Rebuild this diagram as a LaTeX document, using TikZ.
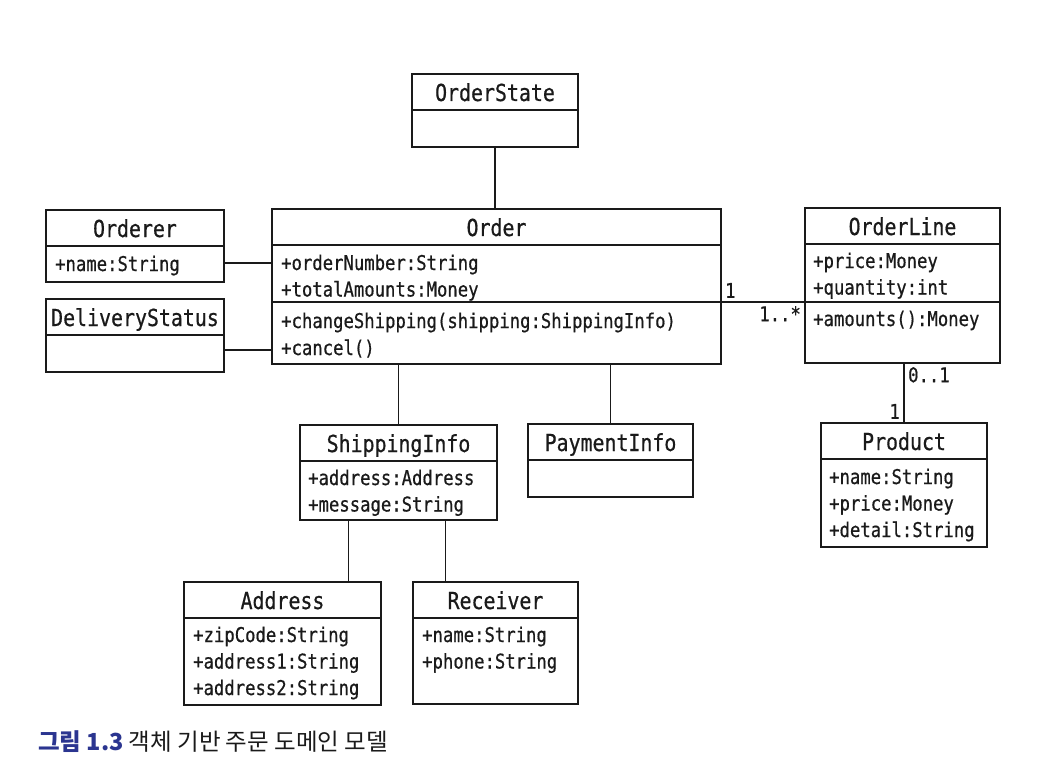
\documentclass[tikz,border=0pt]{standalone}
\usepackage{fontspec}
\usepackage{xcolor}
\usepackage{tikz}
\usetikzlibrary{positioning}
\newfontfamily\umlfont[FakeStretch=0.85,FakeBold=0.6]{DejaVu Sans Mono}
\newfontfamily\cjkfont{Noto Sans CJK KR}
\definecolor{ink}{HTML}{1A1A1A}
\definecolor{figblue}{HTML}{2B3590}
\tikzset{
  classbox/.style={draw=ink, line width=1.3pt, inner sep=0pt, outer sep=0pt},
  link/.style={draw=ink, line width=1.3pt},
  divider/.style={draw=ink, line width=1.3pt},
  ctitle/.style={text=ink, font=\umlfont\fontsize{23.4}{26}\selectfont, anchor=base, inner sep=0pt},
  member/.style={text=ink, font=\umlfont\fontsize{20.3}{24}\selectfont, anchor=base west, inner sep=0pt},
  mult/.style={text=ink, font=\umlfont\fontsize{20.3}{24}\selectfont, inner sep=3.5pt},
}

\begin{document}
\begin{tikzpicture}[x=1pt,y=-1pt]
  \fill[white] (0,0) rectangle (1045,781);
  \useasboundingbox (0,0) rectangle (1045,781);

  % class boxes
  \node[classbox, minimum width=166pt, minimum height=73pt] (orderstate) at (495,110.5) {};
  \node[classbox, minimum width=449pt, minimum height=155pt] (order) at (496.5,286.5) {};
  \node[classbox, minimum width=178pt, minimum height=72pt] (orderer) at (135,246) {};
  \node[classbox, minimum width=178pt, minimum height=73pt] (delivery) at (135,335.5) {};
  \node[classbox, minimum width=195pt, minimum height=155pt] (orderline) at (902.5,285.5) {};
  \node[classbox, minimum width=166pt, minimum height=124pt] (product) at (904,485) {};
  \node[classbox, minimum width=197pt, minimum height=95pt] (shipping) at (398.5,472.5) {};
  \node[classbox, minimum width=165pt, minimum height=73pt] (payment) at (610.5,460.5) {};
  \node[classbox, minimum width=197pt, minimum height=123pt] (address) at (282.5,643.5) {};
  \node[classbox, minimum width=165pt, minimum height=122pt] (receiver) at (495.5,643) {};

  % names and first rules
  \foreach \c/\t in {orderstate/OrderState, order/Order, orderer/Orderer,
      delivery/DeliveryStatus, orderline/OrderLine, product/Product,
      shipping/ShippingInfo, payment/PaymentInfo, address/Address, receiver/Receiver} {
    \node[ctitle] (\c-title) at ([yshift=-27pt]\c.north) {\t};
    \draw[divider] ([yshift=-36pt]\c.north west) -- ([yshift=-36pt]\c.north east);
  }
  \draw[divider] ([yshift=-93pt]order.north west) -- ([yshift=-93pt]order.north east);
  \draw[divider] ([yshift=-94pt]orderline.north west) -- ([yshift=-94pt]orderline.north east);

  % members
  \foreach \m [count=\i] in {+orderNumber:String, +totalAmounts:Money}
    \node[member] (order-a\i) at ([xshift=9pt, yshift={-61pt-(\i-1)*26.5pt}]order.north west) {\m};
  \foreach \m [count=\i] in {+changeShipping(shipping:ShippingInfo), +cancel()}
    \node[member] (order-m\i) at ([xshift=9pt, yshift={-119pt-(\i-1)*27pt}]order.north west) {\m};
  \node[member] (orderer-a1) at ([xshift=9pt, yshift=-61pt]orderer.north west) {+name:String};
  \foreach \m [count=\i] in {+price:Money, +quantity:int}
    \node[member] (orderline-a\i) at ([xshift=8pt, yshift={-60pt-(\i-1)*26.5pt}]orderline.north west) {\m};
  \node[member] (orderline-m1) at ([xshift=8pt, yshift=-118pt]orderline.north west) {+amounts():Money};
  \foreach \m [count=\i] in {+name:String, +price:Money, +detail:String}
    \node[member] (product-a\i) at ([xshift=8pt, yshift={-61pt-(\i-1)*26.5pt}]product.north west) {\m};
  \foreach \m [count=\i] in {+address:Address, +message:String}
    \node[member] (shipping-a\i) at ([xshift=8pt, yshift={-60pt-(\i-1)*26.5pt}]shipping.north west) {\m};
  \foreach \m [count=\i] in {+zipCode:String, +address1:String, +address2:String}
    \node[member] (address-a\i) at ([xshift=9pt, yshift={-60pt-(\i-1)*26.5pt}]address.north west) {\m};
  \foreach \m [count=\i] in {+name:String, +phone:String}
    \node[member] (receiver-a\i) at ([xshift=9pt, yshift={-60pt-(\i-1)*26.5pt}]receiver.north west) {\m};

  % associations
  \draw[link] (orderstate.south) -- (orderstate.south |- order.north);
  \coordinate (orderer-e) at ([yshift=-53pt]orderer.north east);
  \draw[link] (orderer-e) -- (orderer-e -| order.west);
  \coordinate (delivery-e) at ([yshift=-51pt]delivery.north east);
  \draw[link] (delivery-e) -- (delivery-e -| order.west);
  \coordinate (orderline-w) at ([yshift=-94pt]orderline.north west);
  \draw[link] (orderline-w -| order.east) -- (orderline-w)
    node[mult, pos=0, above right] (mult-order) {1}
    node[mult, pos=1, below left] (mult-lines) {1..*};
  \draw[link] (product.north) -- (product.north |- orderline.south)
    node[mult, pos=1, below right] (mult-product) {0..1}
    node[mult, pos=0, above left] (mult-line) {1};
  \draw[link] (shipping.north) -- (shipping.north |- order.south);
  \draw[link] (payment.north) -- (payment.north |- order.south);
  \coordinate (address-n) at ([xshift=66pt]address.north);
  \draw[link] (address-n) -- (address-n |- shipping.south);
  \coordinate (receiver-n) at ([xshift=-50pt]receiver.north);
  \draw[link] (receiver-n) -- (receiver-n |- shipping.south);

  % caption
  \node[anchor=base west, inner sep=0pt, text=ink, font=\cjkfont\fontsize{23.5}{28}\selectfont] (caption)
    at (38,750) {\textcolor{figblue}{\bfseries 그림 1.3} 객체 기반 주문 도메인 모델};
\end{tikzpicture}
\end{document}
